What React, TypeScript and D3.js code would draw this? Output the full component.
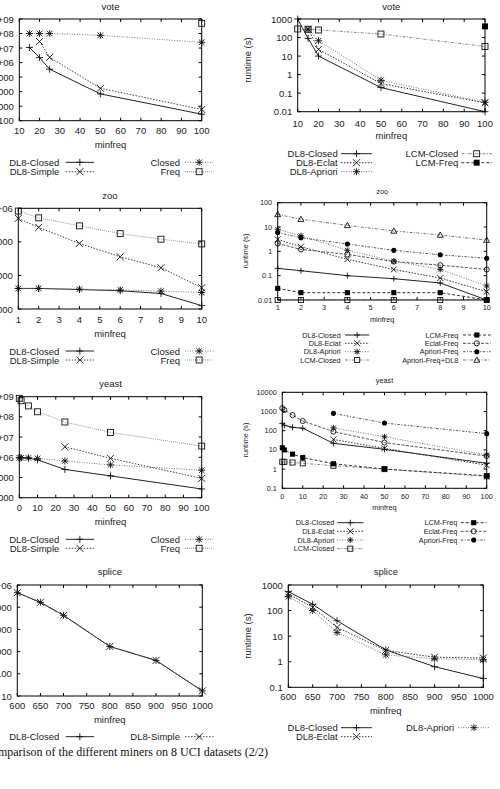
import * as d3 from "d3";

// ---- vote ----
const voteX = [15, 20, 25, 50, 100];
const voteSimpleX = [20, 25, 50, 100];
const voteFreqX = [100];
const voteDl8Closed = [1.1e7, 2.2e6, 3.5e5, 7e3, 280];
const voteDl8Simple = [2.8e7, 2.3e6, 1.7e4, 600];
const voteClosed = [1.0e8, 1.0e8, 1.0e8, 7.5e7, 2.5e7];
const voteFreq = [5e8];

const voteRtX = [10, 15, 20, 50, 100];
const voteRtMinerX = [15, 20, 50, 100];
const voteRtLcmFreqX = [100];
const voteRtDl8Closed = [1000, 90, 10, 0.2, 0.01];
const voteRtDl8Eclat = [280, 23, 0.33, 0.03];
const voteRtDl8Apriori = [280, 67, 0.5, 0.032];
const voteRtLcmClosed = [290, 280, 255, 155, 33];
const voteRtLcmFreq = [400];

// ---- zoo ----
const zooX = [1, 2, 4, 6, 8, 10];
const zooDl8Closed = [4100, 4100, 3800, 3500, 2900, 1260];
const zooDl8Simple = [5e5, 2.7e5, 9e4, 3.6e4, 1.7e4, 4300];
const zooClosed = [4100, 4100, 3900, 3700, 3400, 3100];
const zooFreq = [8.3e5, 5.2e5, 3e5, 1.76e5, 1.2e5, 8.7e4];

const zooRtDl8Closed = [0.2, 0.16, 0.1, 0.075, 0.05, 0.01];
const zooRtDl8Eclat = [3.1, 1.55, 0.47, 0.18, 0.08, 0.022];
const zooRtDl8Apriori = [8, 4.4, 1.1, 0.4, 0.18, 0.038];
const zooRtLcmClosed = [0.01, 0.01, 0.01, 0.01, 0.01, 0.01];
const zooRtLcmFreq = [0.03, 0.02, 0.02, 0.02, 0.02, 0.01];
const zooRtEclatFreq = [2.1, 1.2, 0.75, 0.38, 0.27, 0.18];
const zooRtAprioriFreq = [6, 3.6, 2, 1.1, 0.72, 0.52];
const zooRtAprioriFreqDl8 = [33, 21, 11.7, 6.9, 4.7, 2.9];

// ---- yeast ----
const yeastX = [0, 1, 5, 10, 25, 50, 100];
const yeastLateX = [25, 50, 100];
const yeastDl8Closed = [9.5e5, 9.5e5, 9.2e5, 7.5e5, 2.5e5, 1.2e5, 2.7e4];
const yeastDl8Simple = [3.3e6, 8.9e5, 9e4];
const yeastClosed = [9.5e5, 9.5e5, 9.3e5, 8.8e5, 6.6e5, 4.2e5, 2.3e5];
const yeastFreq = [8.3e8, 6.3e8, 3.5e8, 1.8e8, 5.6e7, 1.7e7, 3.6e6];

const yeastRtDl8Closed = [240, 190, 150, 135, 22, 10.7, 2];
const yeastRtDl8Eclat = [35, 12, 1.6];
const yeastRtDl8Apriori = [140, 48, 5.5];
const yeastRtLcmClosed = [2.4, 2.4, 2.2, 2.0, 1.5, 1.0, 0.42];
const yeastRtLcmFreq = [13, 10, 6, 4, 1.9, 1.0, 0.45];
const yeastRtEclatFreq = [1500, 1200, 650, 320, 90, 24, 4.8];
const yeastRtAprioriFreq = [800, 250, 70];

// ---- splice ----
const spliceX = [600, 650, 700, 800, 900, 1000];
const spliceDl8Closed = [4.5e5, 1.65e5, 4.3e4, 1.7e3, 400, 17];
const spliceDl8Simple = [4.5e5, 1.65e5, 4.3e4, 1.7e3, 400, 17];
const spliceRtDl8Closed = [550, 176, 40, 2.9, 0.64, 0.22];
const spliceRtDl8Eclat = [450, 134, 22, 2.8, 1.5, 1.4];
const spliceRtDl8Apriori = [350, 100, 14, 1.85, 1.3, 1.2];

const caption = "Comparison of the different miners on 8 UCI datasets (2/2)";

const styles: Record<string, { marker: string; dash: string; stroke: string }> = {
  "DL8-Closed": { marker: "plus", dash: "", stroke: "#222" },
  "DL8-Simple": { marker: "cross", dash: "1.5,1.5", stroke: "#444" },
  Closed: { marker: "star", dash: "1,1.5", stroke: "#777" },
  Freq: { marker: "square", dash: "1,1", stroke: "#999" },
  "DL8-Eclat": { marker: "cross", dash: "1.5,1.5", stroke: "#333" },
  "DL8-Apriori": { marker: "star", dash: "1,1.5", stroke: "#777" },
  "LCM-Closed": { marker: "square", dash: "3,1.5,1,1.5", stroke: "#888" },
  "LCM-Freq": { marker: "fsquare", dash: "3,2", stroke: "#333" },
  "Eclat-Freq": { marker: "circle", dash: "3,1.5", stroke: "#555" },
  "Apriori-Freq": { marker: "fcircle", dash: "2.5,1.5,1,1.5", stroke: "#555" },
  "Apriori-Freq+DL8": { marker: "triangle", dash: "3,1.5,1,1.5", stroke: "#777" },
};

type S = { name: string; x: number[]; y: number[] };
type Cfg = {
  title: string;
  box: [number, number, number, number];
  xDom: [number, number];
  xTicks: number[];
  yExp: [number, number];
  sci: boolean;
  fs: number;
  ms: number;
  titleY: number;
  xtY: number;
  xlY: number;
  rows: number[];
  cols: { te: number; s0: number; s1: number }[];
  ylabel?: [number, number];
  series: S[];
};

const bigLeg = [
  { te: 59.3, s0: 65.7, s1: 94 },
  { te: 180, s0: 185, s1: 213.3 },
];

const panels: Cfg[] = [
  {
    title: "vote", box: [19.3, 201.7, 19, 120.7], xDom: [10, 100], xTicks: d3.range(10, 101, 10),
    yExp: [2, 9], sci: true, fs: 9.5, ms: 7, titleY: 6, xtY: 130, xlY: 144.3,
    rows: [162.3, 171.7], cols: bigLeg,
    series: [
      { name: "DL8-Closed", x: voteX, y: voteDl8Closed },
      { name: "DL8-Simple", x: voteSimpleX, y: voteDl8Simple },
      { name: "Closed", x: voteX, y: voteClosed },
      { name: "Freq", x: voteFreqX, y: voteFreq },
    ],
  },
  {
    title: "vote", box: [297.7, 485, 19, 111.7], xDom: [10, 100], xTicks: d3.range(10, 101, 10),
    yExp: [-2, 3], sci: false, fs: 9.5, ms: 7, titleY: 6, xtY: 123.3, xlY: 135.5,
    rows: [153.7, 162.7, 171.7],
    cols: [{ te: 337.7, s0: 341, s1: 372 }, { te: 458.3, s0: 461.3, s1: 492 }],
    ylabel: [247, 60],
    series: [
      { name: "DL8-Closed", x: voteRtX, y: voteRtDl8Closed },
      { name: "DL8-Eclat", x: voteRtMinerX, y: voteRtDl8Eclat },
      { name: "DL8-Apriori", x: voteRtMinerX, y: voteRtDl8Apriori },
      { name: "LCM-Closed", x: voteRtX, y: voteRtLcmClosed },
      { name: "LCM-Freq", x: voteRtLcmFreqX, y: voteRtLcmFreq },
    ],
  },
  {
    title: "zoo", box: [18.3, 201.7, 208.3, 309], xDom: [1, 10], xTicks: d3.range(1, 11),
    yExp: [3, 6], sci: true, fs: 9.5, ms: 7, titleY: 195, xtY: 319.3, xlY: 333.3,
    rows: [351, 360], cols: bigLeg,
    series: [
      { name: "DL8-Closed", x: zooX, y: zooDl8Closed },
      { name: "DL8-Simple", x: zooX, y: zooDl8Simple },
      { name: "Closed", x: zooX, y: zooClosed },
      { name: "Freq", x: zooX, y: zooFreq },
    ],
  },
  {
    title: "zoo", box: [277.7, 486.7, 202.7, 300], xDom: [1, 10], xTicks: d3.range(1, 11),
    yExp: [-2, 2], sci: false, fs: 7.3, ms: 6, titleY: 191.5, xtY: 307.3, xlY: 319.3,
    rows: [335, 343.3, 351.7, 360],
    cols: [{ te: 340.7, s0: 345, s1: 369.3 }, { te: 458.3, s0: 463, s1: 490.7 }],
    ylabel: [245, 251],
    series: [
      { name: "DL8-Closed", x: zooX, y: zooRtDl8Closed },
      { name: "DL8-Eclat", x: zooX, y: zooRtDl8Eclat },
      { name: "DL8-Apriori", x: zooX, y: zooRtDl8Apriori },
      { name: "LCM-Closed", x: zooX, y: zooRtLcmClosed },
      { name: "LCM-Freq", x: zooX, y: zooRtLcmFreq },
      { name: "Eclat-Freq", x: zooX, y: zooRtEclatFreq },
      { name: "Apriori-Freq", x: zooX, y: zooRtAprioriFreq },
      { name: "Apriori-Freq+DL8", x: zooX, y: zooRtAprioriFreqDl8 },
    ],
  },
  {
    title: "yeast", box: [19.3, 201.7, 396.7, 497.7], xDom: [0, 100], xTicks: d3.range(0, 101, 10),
    yExp: [4, 9], sci: true, fs: 9.5, ms: 7, titleY: 383.3, xtY: 507.3, xlY: 521.7,
    rows: [539.3, 548.3], cols: bigLeg,
    series: [
      { name: "DL8-Closed", x: yeastX, y: yeastDl8Closed },
      { name: "DL8-Simple", x: yeastLateX, y: yeastDl8Simple },
      { name: "Closed", x: yeastX, y: yeastClosed },
      { name: "Freq", x: yeastX, y: yeastFreq },
    ],
  },
  {
    title: "yeast", box: [282.3, 486.7, 392.3, 488.3], xDom: [0, 100], xTicks: d3.range(0, 101, 10),
    yExp: [-1, 4], sci: false, fs: 7.3, ms: 6, titleY: 380.7, xtY: 496.7, xlY: 507.3,
    rows: [522.7, 531.3, 540, 548.7],
    cols: [{ te: 334.3, s0: 337.3, s1: 363.3 }, { te: 457.3, s0: 460.7, s1: 486.7 }],
    ylabel: [245, 440],
    series: [
      { name: "DL8-Closed", x: yeastX, y: yeastRtDl8Closed },
      { name: "DL8-Eclat", x: yeastLateX, y: yeastRtDl8Eclat },
      { name: "DL8-Apriori", x: yeastLateX, y: yeastRtDl8Apriori },
      { name: "LCM-Closed", x: yeastX, y: yeastRtLcmClosed },
      { name: "LCM-Freq", x: yeastX, y: yeastRtLcmFreq },
      { name: "Eclat-Freq", x: yeastX, y: yeastRtEclatFreq },
      { name: "Apriori-Freq", x: yeastLateX, y: yeastRtAprioriFreq },
    ],
  },
  {
    title: "splice", box: [17.3, 202.3, 585, 696], xDom: [600, 1000], xTicks: d3.range(600, 1001, 50),
    yExp: [1, 6], sci: true, fs: 9.5, ms: 7, titleY: 571.7, xtY: 705, xlY: 719.3,
    rows: [736.7], cols: bigLeg,
    series: [
      { name: "DL8-Closed", x: spliceX, y: spliceDl8Closed },
      { name: "DL8-Simple", x: spliceX, y: spliceDl8Simple },
    ],
  },
  {
    title: "splice", box: [288.3, 483.3, 585, 687.3], xDom: [600, 1000], xTicks: d3.range(600, 1001, 50),
    yExp: [-1, 3], sci: false, fs: 9.5, ms: 7, titleY: 571.7, xtY: 696.7, xlY: 710,
    rows: [727.7, 736.7],
    cols: [{ te: 337.7, s0: 341, s1: 372 }, { te: 454, s0: 458, s1: 490 }],
    ylabel: [247, 636],
    series: [
      { name: "DL8-Closed", x: spliceX, y: spliceRtDl8Closed },
      { name: "DL8-Eclat", x: spliceX, y: spliceRtDl8Eclat },
      { name: "DL8-Apriori", x: spliceX, y: spliceRtDl8Apriori },
    ],
  },
];

const FONT = "Liberation Sans, Arial, Helvetica, sans-serif";

function Marker({ kind, cx, cy, s }: { kind: string; cx: number; cy: number; s: number }) {
  const h = s / 2;
  const st = { stroke: "#111", strokeWidth: 0.9, fill: "none" };
  if (kind === "plus")
    return <path d={`M${cx - h},${cy}H${cx + h}M${cx},${cy - h}V${cy + h}`} {...st} />;
  if (kind === "cross")
    return <path d={`M${cx - h},${cy - h}L${cx + h},${cy + h}M${cx - h},${cy + h}L${cx + h},${cy - h}`} {...st} />;
  if (kind === "star")
    return (
      <path
        d={`M${cx - h},${cy}H${cx + h}M${cx},${cy - h}V${cy + h}M${cx - h * 0.8},${cy - h * 0.8}L${cx + h * 0.8},${cy + h * 0.8}M${cx - h * 0.8},${cy + h * 0.8}L${cx + h * 0.8},${cy - h * 0.8}`}
        {...st}
      />
    );
  if (kind === "square") return <rect x={cx - h * 0.85} y={cy - h * 0.85} width={h * 1.7} height={h * 1.7} {...st} />;
  if (kind === "fsquare") return <rect x={cx - h * 0.85} y={cy - h * 0.85} width={h * 1.7} height={h * 1.7} fill="#000" />;
  if (kind === "circle") return <circle cx={cx} cy={cy} r={h * 0.85} {...st} />;
  if (kind === "fcircle") return <circle cx={cx} cy={cy} r={h * 0.85} fill="#000" />;
  if (kind === "triangle")
    return <path d={`M${cx},${cy - h}L${cx + h},${cy + h * 0.75}L${cx - h},${cy + h * 0.75}Z`} {...st} />;
  return null;
}

function Panel({ p, id }: { p: Cfg; id: number }) {
  const [x0, x1, y0, y1] = p.box;
  const x = d3.scaleLinear().domain(p.xDom).range([x0, x1]);
  const y = d3.scaleLog().domain([Math.pow(10, p.yExp[0]), Math.pow(10, p.yExp[1])]).range([y1, y0]);
  const line = d3.line<[number, number]>().x((d) => x(d[0])).y((d) => y(d[1]));
  const yTicks = d3.range(p.yExp[0], p.yExp[1] + 1);
  const fmt = (e: number) => (p.sci && e >= 6 ? `1e+0${e}` : String(Math.pow(10, e)));
  const tl = 3;
  const nRows = p.rows.length;
  return (
    <g fontFamily={FONT} fontSize={p.fs} fill="#222">
      <defs>
        <clipPath id={`clip${id}`}>
          <rect x={x0} y={y0} width={x1 - x0} height={y1 - y0} />
        </clipPath>
      </defs>
      <text x={(x0 + x1) / 2} y={p.titleY} textAnchor="middle" dominantBaseline="central">
        {p.title}
      </text>
      {p.xTicks.map((t) => (
        <g key={`x${t}`}>
          <line x1={x(t)} x2={x(t)} y1={y1} y2={y1 - tl} stroke="#000" />
          <line x1={x(t)} x2={x(t)} y1={y0} y2={y0 + tl} stroke="#000" />
          <text x={x(t)} y={p.xtY} textAnchor="middle" dominantBaseline="central">
            {t}
          </text>
        </g>
      ))}
      {yTicks.map((e) => {
        const yy = y(Math.pow(10, e));
        return (
          <g key={`y${e}`}>
            <line x1={x0} x2={x0 + tl} y1={yy} y2={yy} stroke="#000" />
            <line x1={x1} x2={x1 - tl} y1={yy} y2={yy} stroke="#000" />
            <text x={x0 - 5.5} y={yy} textAnchor="end" dominantBaseline="central">
              {fmt(e)}
            </text>
          </g>
        );
      })}
      <text x={(x0 + x1) / 2} y={p.xlY} textAnchor="middle" dominantBaseline="central">
        minfreq
      </text>
      {p.ylabel && (
        <text
          transform={`translate(${p.ylabel[0]},${p.ylabel[1]}) rotate(-90)`}
          textAnchor="middle"
          dominantBaseline="central"
        >
          runtime (s)
        </text>
      )}
      <g clipPath={`url(#clip${id})`}>
        {p.series.map((s) => {
          const st = styles[s.name];
          const pts = s.x.map((v, i) => [v, s.y[i]] as [number, number]);
          return (
            <path key={s.name} d={line(pts) ?? ""} fill="none" stroke={st.stroke} strokeWidth={1} strokeDasharray={st.dash} />
          );
        })}
      </g>
      {p.series.map((s) =>
        s.x.map((v, i) => (
          <Marker key={`${s.name}${i}`} kind={styles[s.name].marker} cx={x(v)} cy={y(s.y[i])} s={p.ms} />
        ))
      )}
      <rect x={x0} y={y0} width={x1 - x0} height={y1 - y0} fill="none" stroke="#000" strokeWidth={1} />
      {p.series.map((s, i) => {
        const c = p.cols[Math.floor(i / nRows)];
        const ry = p.rows[i % nRows];
        const st = styles[s.name];
        return (
          <g key={`l${s.name}`}>
            <text x={c.te} y={ry} textAnchor="end" dominantBaseline="central">
              {s.name}
            </text>
            <line x1={c.s0} x2={c.s1} y1={ry} y2={ry} stroke={st.stroke} strokeDasharray={st.dash} />
            <Marker kind={st.marker} cx={(c.s0 + c.s1) / 2} cy={ry} s={p.ms} />
          </g>
        );
      })}
    </g>
  );
}

export default function App() {
  return (
    <svg width={500} height={789} style={{ position: "absolute", left: 0, top: 0, background: "#fff" }}>
      {panels.map((p, i) => (
        <Panel key={i} p={p} id={i} />
      ))}
      <text
        x={268}
        y={751.7}
        textAnchor="end"
        dominantBaseline="central"
        fontFamily="Liberation Serif, Times New Roman, serif"
        fontSize={12}
        fill="#111"
      >
        {caption}
      </text>
    </svg>
  );
}
